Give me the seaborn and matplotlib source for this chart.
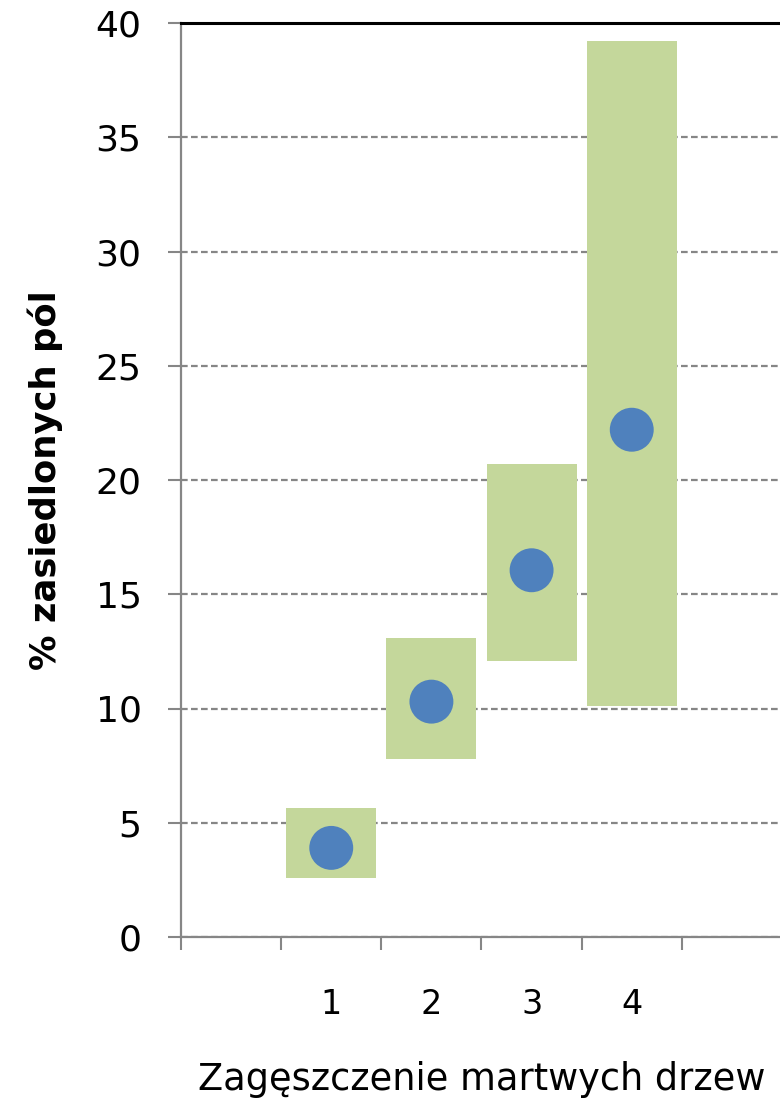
import numpy as np
import matplotlib
matplotlib.use("Agg")
import matplotlib.pyplot as plt
import seaborn as sns

# Data
categories = [1, 2, 3, 4]
cat_labels = ["1", "2", "3", "4"]
low = [2.6, 7.8, 12.1, 10.1]
high = [5.65, 13.1, 20.7, 39.2]
mid = [3.9, 10.3, 16.05, 22.2]
y_ticks = [0, 5, 10, 15, 20, 25, 30, 35, 40]

sns.set_theme(style="white")
plt.rcParams['font.family'] = ['DejaVu Sans']
plt.rcParams['text.color'] = 'black'
plt.rcParams['axes.labelcolor'] = 'black'

fig = plt.figure(figsize=(7.8, 11.06), dpi=100)
ax = fig.add_axes([181/780, 1 - 937/1106, 601/780, 914/1106])

heights = np.array(high) - np.array(low)
sns.barplot(x=categories, y=heights, bottom=np.array(low), native_scale=True,
            width=0.9, color="#C4D79B", saturation=1, errorbar=None, ax=ax,
            linewidth=0, zorder=2)
sns.scatterplot(x=categories, y=mid, s=1000, color="#4F81BD", edgecolor="none",
                linewidth=0, zorder=3, ax=ax, legend=False)

ax.set_xlim(-0.5, 5.5)
ax.set_ylim(0, 40)

# y axis
ax.set_yticks(y_ticks)
ax.set_yticklabels([str(v) for v in y_ticks])
ax.tick_params(axis="y", which="major", length=9.4, width=1.5, color="#868686",
               pad=19, labelsize=26, labelcolor="black", left=True)
ax.yaxis.grid(True, color="#868686", linestyle=(0, (3, 1.5)), linewidth=1.6, zorder=0)
ax.set_axisbelow(True)

# x axis: labels at category centers, tick marks at slot boundaries
ax.set_xticks(categories)
ax.set_xticklabels(cat_labels)
ax.set_xticks(np.arange(-0.5, 6.0, 1.0), minor=True)
ax.tick_params(axis="x", which="major", length=0, pad=37, labelsize=24, labelcolor="black")
ax.tick_params(axis="x", which="minor", length=9.4, width=1.5, color="#868686", bottom=True)
ax.xaxis.grid(False)

for s in ["left", "bottom"]:
    ax.spines[s].set_color("#868686")
    ax.spines[s].set_linewidth(1.6)
ax.spines["top"].set_color("black")
ax.spines["top"].set_linewidth(2.2)
ax.spines["right"].set_visible(False)

ax.set_ylabel("% zasiedlonych pól", fontsize=25.5, fontweight="bold", va="center",
              color="black")
ax.yaxis.set_label_coords((45 - 181) / 601, 0.5)
ax.set_xlabel("Zagęszczenie martwych drzew", fontsize=26.5, va="center", color="black")
ax.xaxis.set_label_coords(0.5, (937 - 1080) / 914)

fig.savefig("out.png", dpi=100)
